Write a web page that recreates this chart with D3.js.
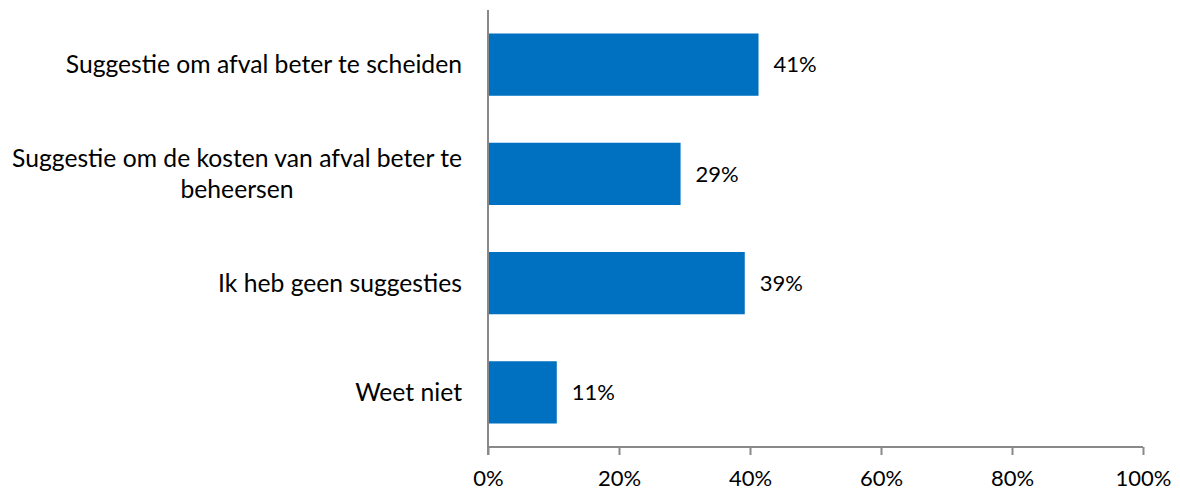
<!DOCTYPE html>
<html>
<head>
<meta charset="utf-8">
<script src="https://cdn.jsdelivr.net/npm/d3@7"></script>
<style>
  body { margin: 0; background: #fff; }
  svg text { font-family: Lato, "Open Sans", sans-serif; fill: #000; }
</style>
</head>
<body>
<div id="chart"></div>
<script>
// categories and their shares (fraction of respondents)
var categories = [
    ["Suggestie om afval beter te scheiden"],
    ["Suggestie om de kosten van afval beter te", "beheersen"],
    ["Ik heb geen suggesties"],
    ["Weet niet"]
];
var values = [0.413, 0.294, 0.392, 0.105];
var valueLabels = ["41%", "29%", "39%", "11%"];
var tickValues = [0, 0.2, 0.4, 0.6, 0.8, 1.0];

var width = 1180, height = 492;
var plotLeft = 488, plotRight = 1143, plotTop = 10, plotBottom = 447;
var axisColor = "#898989";
var barColor = "#0070C0";
var labelFont = "24.7px";
var numberFont = "22px";

var svg = d3.select("#chart").append("svg")
    .attr("width", width)
    .attr("height", height);

var x = d3.scaleLinear().domain([0, 1]).range([plotLeft, plotRight]);
var y = d3.scaleBand()
    .domain(d3.range(categories.length))
    .range([plotTop, plotBottom])
    .paddingInner(0.43)
    .paddingOuter(0.215);

// bars
svg.append("g").selectAll("rect")
    .data(values)
    .enter()
    .append("rect")
    .attr("x", x(0))
    .attr("y", function(d, i) { return y(i); })
    .attr("width", function(d) { return x(d) - x(0); })
    .attr("height", y.bandwidth())
    .style("fill", barColor);

// value labels
svg.append("g").selectAll("text")
    .data(values)
    .enter()
    .append("text")
    .attr("x", function(d) { return x(d) + 15; })
    .attr("y", function(d, i) { return y(i) + y.bandwidth() / 2; })
    .attr("dy", "0.35em")
    .style("font-size", numberFont)
    .text(function(d, i) { return valueLabels[i]; });

// x axis
var xAxis = d3.axisBottom(x)
    .tickValues(tickValues)
    .tickSize(8)
    .tickFormat(d3.format(".0%"));
var gx = svg.append("g")
    .attr("transform", "translate(0," + plotBottom + ")")
    .call(xAxis);
gx.select(".domain").remove();
gx.selectAll(".tick line").attr("stroke", axisColor).attr("stroke-width", 2);
gx.selectAll(".tick text")
    .attr("y", 23)
    .style("font-size", numberFont)
    .style("font-family", "Lato, 'Open Sans', sans-serif")
    .attr("fill", "#000");
svg.append("line")
    .attr("x1", plotLeft).attr("x2", plotRight)
    .attr("y1", plotBottom).attr("y2", plotBottom)
    .attr("stroke", axisColor).attr("stroke-width", 2);

// y axis line
svg.append("line")
    .attr("x1", plotLeft).attr("x2", plotLeft)
    .attr("y1", plotTop).attr("y2", plotBottom + 8)
    .attr("stroke", axisColor).attr("stroke-width", 2);

// category labels, multi-line ones centred on their widest line
var labelRight = 462;
categories.forEach(function(lines, i) {
    var g = svg.append("g");
    var cy = y(i) + y.bandwidth() / 2;
    var lh = 31;
    var texts = lines.map(function(line, j) {
        return g.append("text")
            .attr("y", cy + (j - (lines.length - 1) / 2) * lh)
            .attr("dy", "0.35em")
            .style("font-size", labelFont)
            .text(line);
    });
    var maxW = d3.max(texts, function(t) { return t.node().getComputedTextLength(); });
    texts.forEach(function(t) {
        t.attr("x", labelRight - maxW / 2).attr("text-anchor", "middle");
    });
});
</script>
</body>
</html>
